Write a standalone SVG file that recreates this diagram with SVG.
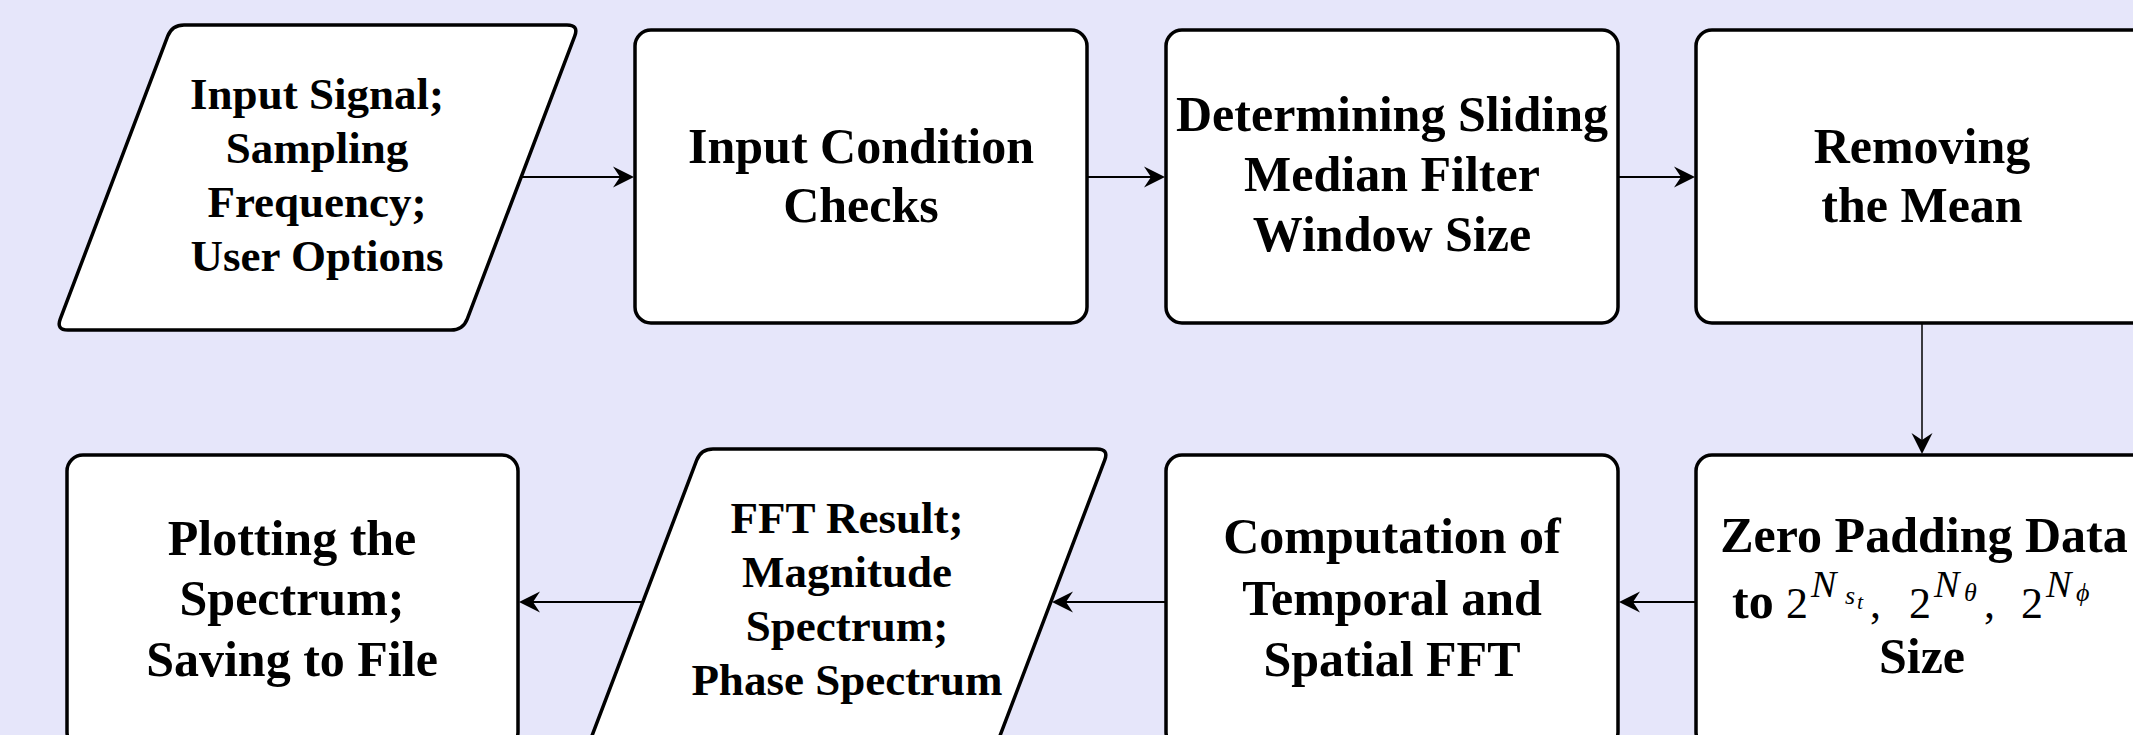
<svg xmlns="http://www.w3.org/2000/svg" width="2133" height="735" viewBox="0 0 2133 735">
<style>
.box{fill:#ffffff;stroke:#000000;stroke-width:3.5}
.t{font-family:"Liberation Serif","Times New Roman",serif;font-weight:bold;fill:#000;text-anchor:middle}
.f50{font-size:50px}
.f45{font-size:45px}
.m{font-family:"Liberation Serif","DejaVu Serif",serif;fill:#000}
.mi{font-style:italic}
.edge{fill:none;stroke:#000;stroke-width:2}
.thin{stroke-width:1.5}
</style>
<defs>
<marker id="ah" viewBox="-10 -11 23 22" markerWidth="23" markerHeight="22" refX="0" refY="0" orient="auto" markerUnits="userSpaceOnUse">
<path d="M12,0 L-9,-10.5 L-2,0 L-9,10.5 Z" fill="#000"/>
</marker>
</defs>
<rect x="0" y="0" width="2133" height="735" fill="#E6E6FA"/>

<g id="node-input">
<path class="box" d="M184,25 L567,25 Q579,25 574.7,36.2 L467.3,318.8 Q463,330 451,330 L68,330 Q56,330 60.3,318.8 L167.7,36.2 Q172,25 184,25 Z"/>
<text class="t f45" x="317"><tspan x="317" y="109">Input Signal;</tspan><tspan x="317" y="163">Sampling</tspan><tspan x="317" y="217">Frequency;</tspan><tspan x="317" y="271">User Options</tspan></text>
</g>

<g id="node-checks">
<rect class="box" x="635" y="30" width="452" height="293" rx="16"/>
<text class="t f50"><tspan x="861" y="163">Input Condition</tspan><tspan x="861" y="222">Checks</tspan></text>
</g>

<g id="node-window">
<rect class="box" x="1166" y="30" width="452" height="293" rx="16"/>
<text class="t f50"><tspan x="1392" y="131">Determining Sliding</tspan><tspan x="1392" y="191">Median Filter</tspan><tspan x="1392" y="251">Window Size</tspan></text>
</g>

<g id="node-mean">
<rect class="box" x="1696" y="30" width="452" height="293" rx="16"/>
<text class="t f50"><tspan x="1922" y="163">Removing</tspan><tspan x="1922" y="222">the Mean</tspan></text>
</g>

<g id="node-zeropad">
<rect class="box" x="1696" y="455" width="452" height="293" rx="16"/>
<text class="t f50"><tspan x="1924" y="552">Zero Padding Data</tspan><tspan x="1922" y="673">Size</tspan></text>
<text class="t f50" x="1732" y="618" style="text-anchor:start">to</text>
<text class="m" font-size="44" x="1786" y="618">2</text>
<text class="m mi" font-size="38" x="1811" y="597">N</text>
<text class="m mi" font-size="26" x="1845" y="604">s</text>
<text class="m mi" font-size="22" x="1857" y="609">t</text>
<text class="m" font-size="44" x="1870" y="618">,</text>
<text class="m" font-size="44" x="1909" y="618">2</text>
<text class="m mi" font-size="38" x="1934" y="597">N</text>
<text class="m mi" font-size="26" x="1964" y="601">θ</text>
<text class="m" font-size="44" x="1984" y="618">,</text>
<text class="m" font-size="44" x="2021" y="618">2</text>
<text class="m mi" font-size="38" x="2046" y="597">N</text>
<text class="m mi" font-size="26" x="2076" y="601">ϕ</text>
</g>

<g id="node-fft">
<rect class="box" x="1166" y="455" width="452" height="293" rx="16"/>
<text class="t f50"><tspan x="1392" y="553">Computation of</tspan><tspan x="1392" y="615">Temporal and</tspan><tspan x="1392" y="676">Spatial FFT</tspan></text>
</g>

<g id="node-result">
<path class="box" d="M713,449 L1097,449 Q1109,449 1104.7,460.2 L997.3,742.8 Q993,754 981,754 L597,754 Q585,754 589.3,742.8 L696.7,460.2 Q701,449 713,449 Z"/>
<text class="t f45"><tspan x="847" y="533">FFT Result;</tspan><tspan x="847" y="587">Magnitude</tspan><tspan x="847" y="641">Spectrum;</tspan><tspan x="847" y="695">Phase Spectrum</tspan></text>
</g>

<g id="node-plot">
<rect class="box" x="67" y="455" width="451" height="293" rx="16"/>
<text class="t f50"><tspan x="292" y="555">Plotting the</tspan><tspan x="292" y="615">Spectrum;</tspan><tspan x="292" y="676">Saving to File</tspan></text>
</g>

<g id="connectors">
<line class="edge" x1="521" y1="177" x2="622" y2="177" marker-end="url(#ah)"/>
<line class="edge" x1="1087" y1="177" x2="1153" y2="177" marker-end="url(#ah)"/>
<line class="edge" x1="1618" y1="177" x2="1683" y2="177" marker-end="url(#ah)"/>
<line class="edge thin" x1="1922" y1="323" x2="1922" y2="442" marker-end="url(#ah)"/>
<line class="edge" x1="1696" y1="602" x2="1631" y2="602" marker-end="url(#ah)"/>
<line class="edge" x1="1166" y1="602" x2="1064" y2="602" marker-end="url(#ah)"/>
<line class="edge" x1="643" y1="602" x2="531" y2="602" marker-end="url(#ah)"/>
</g>
</svg>
